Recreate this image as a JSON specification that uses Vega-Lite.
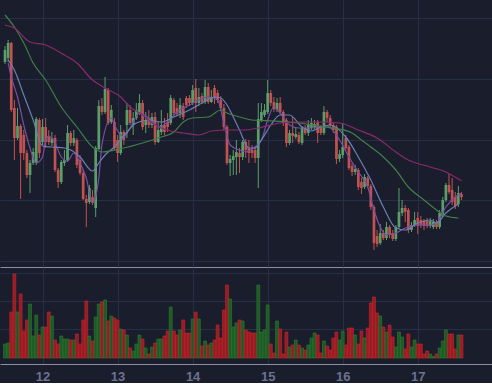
{
"$schema": "https://vega.github.io/schema/vega-lite/v6.json",
"background": "#1a1d2c",
"padding": 0,
"spacing": 0,
"config": {"view": {"stroke": null}},
"datasets": {
"k": [
{"t":"2024-03-11T12:00Z","o":226,"h":242,"l":224,"c":238,"v":14},
{"t":"2024-03-11T13:00Z","o":230,"h":248,"l":226,"c":245,"v":15},
{"t":"2024-03-11T14:00Z","o":245,"h":246,"l":176,"c":178,"v":46},
{"t":"2024-03-11T15:00Z","o":180,"h":188,"l":128,"c":150,"v":84},
{"t":"2024-03-11T16:00Z","o":150,"h":180,"l":148,"c":162,"v":46},
{"t":"2024-03-11T17:00Z","o":162,"h":164,"l":89,"c":135,"v":64},
{"t":"2024-03-11T18:00Z","o":153,"h":158,"l":128,"c":135,"v":27},
{"t":"2024-03-11T19:00Z","o":135,"h":138,"l":110,"c":113,"v":38},
{"t":"2024-03-11T20:00Z","o":113,"h":128,"l":95,"c":125,"v":54},
{"t":"2024-03-11T21:00Z","o":125,"h":140,"l":123,"c":136,"v":22},
{"t":"2024-03-11T22:00Z","o":125,"h":171,"l":123,"c":169,"v":43},
{"t":"2024-03-11T23:00Z","o":168,"h":170,"l":130,"c":135,"v":23},
{"t":"2024-03-12T00:00Z","o":146,"h":169,"l":143,"c":161,"v":31},
{"t":"2024-03-12T01:00Z","o":161,"h":170,"l":140,"c":146,"v":31},
{"t":"2024-03-12T02:00Z","o":151,"h":158,"l":143,"c":146,"v":46},
{"t":"2024-03-12T03:00Z","o":145,"h":156,"l":142,"c":150,"v":42},
{"t":"2024-03-12T04:00Z","o":150,"h":153,"l":116,"c":118,"v":18},
{"t":"2024-03-12T05:00Z","o":118,"h":120,"l":100,"c":106,"v":14},
{"t":"2024-03-12T06:00Z","o":106,"h":128,"l":104,"c":126,"v":22},
{"t":"2024-03-12T07:00Z","o":125,"h":138,"l":122,"c":128,"v":19},
{"t":"2024-03-12T08:00Z","o":128,"h":163,"l":126,"c":155,"v":19},
{"t":"2024-03-12T09:00Z","o":155,"h":157,"l":142,"c":145,"v":18},
{"t":"2024-03-12T10:00Z","o":145,"h":158,"l":142,"c":150,"v":18},
{"t":"2024-03-12T11:00Z","o":148,"h":150,"l":120,"c":123,"v":24},
{"t":"2024-03-12T12:00Z","o":128,"h":133,"l":113,"c":115,"v":14},
{"t":"2024-03-12T13:00Z","o":115,"h":118,"l":88,"c":89,"v":38},
{"t":"2024-03-12T14:00Z","o":89,"h":93,"l":61,"c":85,"v":57},
{"t":"2024-03-12T15:00Z","o":86,"h":103,"l":84,"c":100,"v":22},
{"t":"2024-03-12T16:00Z","o":91,"h":98,"l":83,"c":85,"v":17},
{"t":"2024-03-12T17:00Z","o":80,"h":142,"l":71,"c":140,"v":41},
{"t":"2024-03-12T18:00Z","o":139,"h":188,"l":138,"c":182,"v":54},
{"t":"2024-03-12T19:00Z","o":182,"h":190,"l":173,"c":176,"v":56},
{"t":"2024-03-12T20:00Z","o":176,"h":211,"l":174,"c":199,"v":58},
{"t":"2024-03-12T21:00Z","o":198,"h":200,"l":163,"c":165,"v":37},
{"t":"2024-03-12T22:00Z","o":166,"h":183,"l":164,"c":178,"v":42},
{"t":"2024-03-12T23:00Z","o":166,"h":170,"l":138,"c":140,"v":40},
{"t":"2024-03-13T00:00Z","o":148,"h":153,"l":126,"c":135,"v":38},
{"t":"2024-03-13T01:00Z","o":135,"h":163,"l":133,"c":156,"v":29},
{"t":"2024-03-13T02:00Z","o":156,"h":158,"l":143,"c":148,"v":28},
{"t":"2024-03-13T03:00Z","o":163,"h":185,"l":150,"c":178,"v":23},
{"t":"2024-03-13T04:00Z","o":178,"h":183,"l":163,"c":165,"v":10},
{"t":"2024-03-13T05:00Z","o":163,"h":176,"l":153,"c":170,"v":7},
{"t":"2024-03-13T06:00Z","o":170,"h":185,"l":168,"c":178,"v":14},
{"t":"2024-03-13T07:00Z","o":175,"h":194,"l":173,"c":185,"v":23},
{"t":"2024-03-13T08:00Z","o":185,"h":188,"l":158,"c":161,"v":19},
{"t":"2024-03-13T09:00Z","o":163,"h":176,"l":155,"c":168,"v":10},
{"t":"2024-03-13T10:00Z","o":170,"h":178,"l":160,"c":163,"v":4},
{"t":"2024-03-13T11:00Z","o":163,"h":175,"l":160,"c":171,"v":11},
{"t":"2024-03-13T12:00Z","o":171,"h":176,"l":143,"c":146,"v":15},
{"t":"2024-03-13T13:00Z","o":146,"h":166,"l":145,"c":158,"v":19},
{"t":"2024-03-13T14:00Z","o":156,"h":178,"l":153,"c":163,"v":19},
{"t":"2024-03-13T15:00Z","o":163,"h":170,"l":153,"c":156,"v":22},
{"t":"2024-03-13T16:00Z","o":166,"h":175,"l":156,"c":161,"v":27},
{"t":"2024-03-13T17:00Z","o":165,"h":193,"l":163,"c":190,"v":51},
{"t":"2024-03-13T18:00Z","o":188,"h":190,"l":173,"c":175,"v":27},
{"t":"2024-03-13T19:00Z","o":180,"h":185,"l":172,"c":174,"v":23},
{"t":"2024-03-13T20:00Z","o":175,"h":190,"l":170,"c":183,"v":28},
{"t":"2024-03-13T21:00Z","o":182,"h":185,"l":168,"c":171,"v":38},
{"t":"2024-03-13T22:00Z","o":190,"h":192,"l":180,"c":183,"v":25},
{"t":"2024-03-13T23:00Z","o":190,"h":193,"l":182,"c":185,"v":25},
{"t":"2024-03-14T00:00Z","o":185,"h":203,"l":183,"c":198,"v":39},
{"t":"2024-03-14T01:00Z","o":200,"h":209,"l":176,"c":185,"v":46},
{"t":"2024-03-14T02:00Z","o":185,"h":200,"l":182,"c":191,"v":39},
{"t":"2024-03-14T03:00Z","o":192,"h":195,"l":184,"c":186,"v":12},
{"t":"2024-03-14T04:00Z","o":186,"h":208,"l":184,"c":201,"v":17},
{"t":"2024-03-14T05:00Z","o":201,"h":205,"l":184,"c":186,"v":13},
{"t":"2024-03-14T06:00Z","o":186,"h":198,"l":185,"c":191,"v":15},
{"t":"2024-03-14T07:00Z","o":200,"h":203,"l":184,"c":190,"v":18},
{"t":"2024-03-14T08:00Z","o":195,"h":198,"l":185,"c":188,"v":33},
{"t":"2024-03-14T09:00Z","o":188,"h":192,"l":178,"c":180,"v":20},
{"t":"2024-03-14T10:00Z","o":180,"h":184,"l":158,"c":161,"v":48},
{"t":"2024-03-14T11:00Z","o":161,"h":163,"l":123,"c":125,"v":73},
{"t":"2024-03-14T12:00Z","o":125,"h":133,"l":112,"c":129,"v":59},
{"t":"2024-03-14T13:00Z","o":128,"h":138,"l":113,"c":132,"v":31},
{"t":"2024-03-14T14:00Z","o":131,"h":148,"l":113,"c":136,"v":35},
{"t":"2024-03-14T15:00Z","o":135,"h":140,"l":115,"c":131,"v":38},
{"t":"2024-03-14T16:00Z","o":131,"h":148,"l":128,"c":146,"v":37},
{"t":"2024-03-14T17:00Z","o":146,"h":149,"l":130,"c":138,"v":28},
{"t":"2024-03-14T18:00Z","o":140,"h":148,"l":125,"c":135,"v":26},
{"t":"2024-03-14T19:00Z","o":138,"h":143,"l":130,"c":135,"v":25},
{"t":"2024-03-14T20:00Z","o":138,"h":141,"l":125,"c":130,"v":25},
{"t":"2024-03-14T21:00Z","o":130,"h":185,"l":100,"c":169,"v":73},
{"t":"2024-03-14T22:00Z","o":168,"h":185,"l":166,"c":176,"v":26},
{"t":"2024-03-14T23:00Z","o":173,"h":184,"l":171,"c":178,"v":28},
{"t":"2024-03-15T00:00Z","o":176,"h":208,"l":174,"c":195,"v":53},
{"t":"2024-03-15T01:00Z","o":195,"h":198,"l":182,"c":185,"v":14},
{"t":"2024-03-15T02:00Z","o":186,"h":191,"l":176,"c":179,"v":5},
{"t":"2024-03-15T03:00Z","o":178,"h":190,"l":176,"c":185,"v":37},
{"t":"2024-03-15T04:00Z","o":185,"h":191,"l":174,"c":176,"v":29},
{"t":"2024-03-15T05:00Z","o":176,"h":178,"l":162,"c":165,"v":4},
{"t":"2024-03-15T06:00Z","o":168,"h":170,"l":141,"c":145,"v":26},
{"t":"2024-03-15T07:00Z","o":145,"h":158,"l":143,"c":155,"v":11},
{"t":"2024-03-15T08:00Z","o":155,"h":171,"l":145,"c":152,"v":13},
{"t":"2024-03-15T09:00Z","o":151,"h":160,"l":149,"c":154,"v":18},
{"t":"2024-03-15T10:00Z","o":153,"h":156,"l":144,"c":146,"v":13},
{"t":"2024-03-15T11:00Z","o":145,"h":162,"l":143,"c":160,"v":10},
{"t":"2024-03-15T12:00Z","o":160,"h":163,"l":153,"c":155,"v":8},
{"t":"2024-03-15T13:00Z","o":155,"h":168,"l":152,"c":163,"v":13},
{"t":"2024-03-15T14:00Z","o":160,"h":170,"l":158,"c":165,"v":20},
{"t":"2024-03-15T15:00Z","o":161,"h":168,"l":159,"c":164,"v":25},
{"t":"2024-03-15T16:00Z","o":166,"h":168,"l":145,"c":155,"v":23},
{"t":"2024-03-15T17:00Z","o":161,"h":163,"l":153,"c":155,"v":5},
{"t":"2024-03-15T18:00Z","o":155,"h":182,"l":153,"c":176,"v":17},
{"t":"2024-03-15T19:00Z","o":176,"h":178,"l":166,"c":170,"v":12},
{"t":"2024-03-15T20:00Z","o":170,"h":173,"l":160,"c":163,"v":8},
{"t":"2024-03-15T21:00Z","o":163,"h":166,"l":155,"c":158,"v":20},
{"t":"2024-03-15T22:00Z","o":161,"h":163,"l":124,"c":129,"v":26},
{"t":"2024-03-15T23:00Z","o":129,"h":138,"l":126,"c":134,"v":18},
{"t":"2024-03-16T00:00Z","o":133,"h":165,"l":130,"c":141,"v":27},
{"t":"2024-03-16T01:00Z","o":150,"h":153,"l":138,"c":140,"v":13},
{"t":"2024-03-16T02:00Z","o":141,"h":143,"l":118,"c":120,"v":30},
{"t":"2024-03-16T03:00Z","o":122,"h":125,"l":112,"c":116,"v":30},
{"t":"2024-03-16T04:00Z","o":116,"h":123,"l":113,"c":119,"v":23},
{"t":"2024-03-16T05:00Z","o":118,"h":120,"l":98,"c":101,"v":14},
{"t":"2024-03-16T06:00Z","o":106,"h":110,"l":94,"c":100,"v":27},
{"t":"2024-03-16T07:00Z","o":101,"h":114,"l":99,"c":111,"v":20},
{"t":"2024-03-16T08:00Z","o":110,"h":112,"l":100,"c":102,"v":30},
{"t":"2024-03-16T09:00Z","o":102,"h":104,"l":78,"c":81,"v":55},
{"t":"2024-03-16T10:00Z","o":81,"h":83,"l":38,"c":45,"v":61},
{"t":"2024-03-16T11:00Z","o":52,"h":58,"l":41,"c":44,"v":45},
{"t":"2024-03-16T12:00Z","o":45,"h":64,"l":43,"c":55,"v":42},
{"t":"2024-03-16T13:00Z","o":55,"h":58,"l":48,"c":50,"v":31},
{"t":"2024-03-16T14:00Z","o":50,"h":66,"l":48,"c":61,"v":26},
{"t":"2024-03-16T15:00Z","o":61,"h":63,"l":50,"c":54,"v":33},
{"t":"2024-03-16T16:00Z","o":55,"h":58,"l":47,"c":49,"v":21},
{"t":"2024-03-16T17:00Z","o":49,"h":63,"l":47,"c":61,"v":11},
{"t":"2024-03-16T18:00Z","o":61,"h":100,"l":59,"c":76,"v":26},
{"t":"2024-03-16T19:00Z","o":75,"h":88,"l":72,"c":80,"v":21},
{"t":"2024-03-16T20:00Z","o":80,"h":83,"l":66,"c":76,"v":9},
{"t":"2024-03-16T21:00Z","o":78,"h":80,"l":55,"c":58,"v":24},
{"t":"2024-03-16T22:00Z","o":58,"h":66,"l":56,"c":63,"v":11},
{"t":"2024-03-16T23:00Z","o":63,"h":76,"l":61,"c":68,"v":18},
{"t":"2024-03-17T00:00Z","o":70,"h":76,"l":54,"c":62,"v":14},
{"t":"2024-03-17T01:00Z","o":68,"h":72,"l":60,"c":63,"v":14},
{"t":"2024-03-17T02:00Z","o":67,"h":69,"l":58,"c":62,"v":4},
{"t":"2024-03-17T03:00Z","o":67,"h":70,"l":60,"c":62,"v":7},
{"t":"2024-03-17T04:00Z","o":62,"h":70,"l":60,"c":67,"v":4},
{"t":"2024-03-17T05:00Z","o":61,"h":69,"l":59,"c":66,"v":1.5},
{"t":"2024-03-17T06:00Z","o":66,"h":68,"l":59,"c":61,"v":4},
{"t":"2024-03-17T07:00Z","o":61,"h":78,"l":59,"c":75,"v":10},
{"t":"2024-03-17T08:00Z","o":73,"h":91,"l":71,"c":88,"v":17},
{"t":"2024-03-17T09:00Z","o":88,"h":105,"l":86,"c":103,"v":28},
{"t":"2024-03-17T10:00Z","o":103,"h":114,"l":94,"c":96,"v":24},
{"t":"2024-03-17T11:00Z","o":98,"h":110,"l":83,"c":86,"v":24},
{"t":"2024-03-17T12:00Z","o":91,"h":96,"l":79,"c":82,"v":9},
{"t":"2024-03-17T13:00Z","o":84,"h":102,"l":81,"c":95,"v":23},
{"t":"2024-03-17T14:00Z","o":94,"h":96,"l":88,"c":91,"v":23}
],
"ma": [
{"t":"2024-03-11T13:00Z","s":"MA5","v":225},{"t":"2024-03-11T14:00Z","s":"MA5","v":211},{"t":"2024-03-11T16:00Z","s":"MA5","v":191},{"t":"2024-03-11T18:00Z","s":"MA5","v":163},{"t":"2024-03-11T20:00Z","s":"MA5","v":140},{"t":"2024-03-11T22:00Z","s":"MA5","v":125},{"t":"2024-03-12T00:00Z","s":"MA5","v":131},{"t":"2024-03-12T01:00Z","s":"MA5","v":148},{"t":"2024-03-12T02:00Z","s":"MA5","v":152},{"t":"2024-03-12T04:00Z","s":"MA5","v":145},{"t":"2024-03-12T06:00Z","s":"MA5","v":131},{"t":"2024-03-12T08:00Z","s":"MA5","v":127},{"t":"2024-03-12T10:00Z","s":"MA5","v":135},{"t":"2024-03-12T12:00Z","s":"MA5","v":125},{"t":"2024-03-12T14:00Z","s":"MA5","v":110},{"t":"2024-03-12T16:00Z","s":"MA5","v":85},{"t":"2024-03-12T18:00Z","s":"MA5","v":110},{"t":"2024-03-12T19:00Z","s":"MA5","v":143},{"t":"2024-03-12T22:00Z","s":"MA5","v":170},{"t":"2024-03-12T23:00Z","s":"MA5","v":163},{"t":"2024-03-13T02:00Z","s":"MA5","v":151},{"t":"2024-03-13T04:00Z","s":"MA5","v":160},{"t":"2024-03-13T07:00Z","s":"MA5","v":175},{"t":"2024-03-13T10:00Z","s":"MA5","v":170},{"t":"2024-03-13T13:00Z","s":"MA5","v":161},{"t":"2024-03-13T16:00Z","s":"MA5","v":166},{"t":"2024-03-13T19:00Z","s":"MA5","v":176},{"t":"2024-03-13T23:00Z","s":"MA5","v":183},{"t":"2024-03-14T02:00Z","s":"MA5","v":188},{"t":"2024-03-14T05:00Z","s":"MA5","v":191},{"t":"2024-03-14T08:00Z","s":"MA5","v":188},{"t":"2024-03-14T10:00Z","s":"MA5","v":165},{"t":"2024-03-14T12:00Z","s":"MA5","v":143},{"t":"2024-03-14T15:00Z","s":"MA5","v":138},{"t":"2024-03-14T17:00Z","s":"MA5","v":136},{"t":"2024-03-14T19:00Z","s":"MA5","v":139},{"t":"2024-03-14T22:00Z","s":"MA5","v":148},{"t":"2024-03-15T00:00Z","s":"MA5","v":168},{"t":"2024-03-15T02:00Z","s":"MA5","v":181},{"t":"2024-03-15T04:00Z","s":"MA5","v":175},{"t":"2024-03-15T07:00Z","s":"MA5","v":163},{"t":"2024-03-15T10:00Z","s":"MA5","v":160},{"t":"2024-03-15T14:00Z","s":"MA5","v":160},{"t":"2024-03-15T19:00Z","s":"MA5","v":162},{"t":"2024-03-15T23:00Z","s":"MA5","v":148},{"t":"2024-03-16T02:00Z","s":"MA5","v":131},{"t":"2024-03-16T05:00Z","s":"MA5","v":116},{"t":"2024-03-16T08:00Z","s":"MA5","v":101},{"t":"2024-03-16T10:00Z","s":"MA5","v":78},{"t":"2024-03-16T12:00Z","s":"MA5","v":61},{"t":"2024-03-16T14:00Z","s":"MA5","v":53},{"t":"2024-03-16T17:00Z","s":"MA5","v":55},{"t":"2024-03-16T20:00Z","s":"MA5","v":60},{"t":"2024-03-17T00:00Z","s":"MA5","v":63},{"t":"2024-03-17T04:00Z","s":"MA5","v":63},{"t":"2024-03-17T06:00Z","s":"MA5","v":65},{"t":"2024-03-17T09:00Z","s":"MA5","v":81},{"t":"2024-03-17T12:00Z","s":"MA5","v":91},{"t":"2024-03-17T14:00Z","s":"MA5","v":95},
{"t":"2024-03-11T13:00Z","s":"MA10","v":228},{"t":"2024-03-11T15:00Z","s":"MA10","v":218},{"t":"2024-03-11T18:00Z","s":"MA10","v":193},{"t":"2024-03-11T21:00Z","s":"MA10","v":168},{"t":"2024-03-12T00:00Z","s":"MA10","v":142},{"t":"2024-03-12T03:00Z","s":"MA10","v":141},{"t":"2024-03-12T07:00Z","s":"MA10","v":140},{"t":"2024-03-12T09:00Z","s":"MA10","v":138},{"t":"2024-03-12T12:00Z","s":"MA10","v":131},{"t":"2024-03-12T16:00Z","s":"MA10","v":117},{"t":"2024-03-12T18:00Z","s":"MA10","v":125},{"t":"2024-03-12T20:00Z","s":"MA10","v":133},{"t":"2024-03-12T23:00Z","s":"MA10","v":141},{"t":"2024-03-13T03:00Z","s":"MA10","v":156},{"t":"2024-03-13T06:00Z","s":"MA10","v":165},{"t":"2024-03-13T10:00Z","s":"MA10","v":168},{"t":"2024-03-13T14:00Z","s":"MA10","v":166},{"t":"2024-03-13T18:00Z","s":"MA10","v":171},{"t":"2024-03-13T23:00Z","s":"MA10","v":178},{"t":"2024-03-14T03:00Z","s":"MA10","v":185},{"t":"2024-03-14T07:00Z","s":"MA10","v":191},{"t":"2024-03-14T09:00Z","s":"MA10","v":190},{"t":"2024-03-14T11:00Z","s":"MA10","v":183},{"t":"2024-03-14T13:00Z","s":"MA10","v":171},{"t":"2024-03-14T15:00Z","s":"MA10","v":158},{"t":"2024-03-14T18:00Z","s":"MA10","v":140},{"t":"2024-03-14T20:00Z","s":"MA10","v":140},{"t":"2024-03-14T22:00Z","s":"MA10","v":148},{"t":"2024-03-15T01:00Z","s":"MA10","v":163},{"t":"2024-03-15T04:00Z","s":"MA10","v":173},{"t":"2024-03-15T07:00Z","s":"MA10","v":173},{"t":"2024-03-15T11:00Z","s":"MA10","v":161},{"t":"2024-03-15T14:00Z","s":"MA10","v":157},{"t":"2024-03-15T17:00Z","s":"MA10","v":161},{"t":"2024-03-15T20:00Z","s":"MA10","v":163},{"t":"2024-03-16T01:00Z","s":"MA10","v":151},{"t":"2024-03-16T05:00Z","s":"MA10","v":131},{"t":"2024-03-16T09:00Z","s":"MA10","v":108},{"t":"2024-03-16T13:00Z","s":"MA10","v":81},{"t":"2024-03-16T17:00Z","s":"MA10","v":60},{"t":"2024-03-16T20:00Z","s":"MA10","v":58},{"t":"2024-03-17T00:00Z","s":"MA10","v":65},{"t":"2024-03-17T04:00Z","s":"MA10","v":68},{"t":"2024-03-17T06:00Z","s":"MA10","v":65},{"t":"2024-03-17T09:00Z","s":"MA10","v":75},{"t":"2024-03-17T13:00Z","s":"MA10","v":84},
{"t":"2024-03-11T12:00Z","s":"MA30","v":273},{"t":"2024-03-11T15:00Z","s":"MA30","v":261},{"t":"2024-03-11T18:00Z","s":"MA30","v":245},{"t":"2024-03-11T21:00Z","s":"MA30","v":225},{"t":"2024-03-12T01:00Z","s":"MA30","v":208},{"t":"2024-03-12T06:00Z","s":"MA30","v":181},{"t":"2024-03-12T11:00Z","s":"MA30","v":161},{"t":"2024-03-12T16:00Z","s":"MA30","v":141},{"t":"2024-03-12T19:00Z","s":"MA30","v":136},{"t":"2024-03-13T02:00Z","s":"MA30","v":140},{"t":"2024-03-13T08:00Z","s":"MA30","v":145},{"t":"2024-03-13T14:00Z","s":"MA30","v":151},{"t":"2024-03-13T18:00Z","s":"MA30","v":156},{"t":"2024-03-13T21:00Z","s":"MA30","v":166},{"t":"2024-03-14T00:00Z","s":"MA30","v":170},{"t":"2024-03-14T05:00Z","s":"MA30","v":171},{"t":"2024-03-14T09:00Z","s":"MA30","v":178},{"t":"2024-03-14T11:00Z","s":"MA30","v":175},{"t":"2024-03-14T15:00Z","s":"MA30","v":171},{"t":"2024-03-14T19:00Z","s":"MA30","v":168},{"t":"2024-03-15T02:00Z","s":"MA30","v":167},{"t":"2024-03-15T10:00Z","s":"MA30","v":165},{"t":"2024-03-15T18:00Z","s":"MA30","v":161},{"t":"2024-03-15T23:00Z","s":"MA30","v":159},{"t":"2024-03-16T03:00Z","s":"MA30","v":155},{"t":"2024-03-16T06:00Z","s":"MA30","v":148},{"t":"2024-03-16T09:00Z","s":"MA30","v":141},{"t":"2024-03-16T13:00Z","s":"MA30","v":131},{"t":"2024-03-16T17:00Z","s":"MA30","v":118},{"t":"2024-03-16T21:00Z","s":"MA30","v":101},{"t":"2024-03-17T02:00Z","s":"MA30","v":88},{"t":"2024-03-17T06:00Z","s":"MA30","v":78},{"t":"2024-03-17T09:00Z","s":"MA30","v":72},{"t":"2024-03-17T13:00Z","s":"MA30","v":70},
{"t":"2024-03-11T12:00Z","s":"MA60","v":263},{"t":"2024-03-11T15:00Z","s":"MA60","v":260},{"t":"2024-03-11T20:00Z","s":"MA60","v":246},{"t":"2024-03-12T01:00Z","s":"MA60","v":243},{"t":"2024-03-12T07:00Z","s":"MA60","v":233},{"t":"2024-03-12T11:00Z","s":"MA60","v":225},{"t":"2024-03-12T16:00Z","s":"MA60","v":208},{"t":"2024-03-12T20:00Z","s":"MA60","v":200},{"t":"2024-03-13T01:00Z","s":"MA60","v":191},{"t":"2024-03-13T04:00Z","s":"MA60","v":181},{"t":"2024-03-13T08:00Z","s":"MA60","v":173},{"t":"2024-03-13T12:00Z","s":"MA60","v":163},{"t":"2024-03-13T17:00Z","s":"MA60","v":157},{"t":"2024-03-13T21:00Z","s":"MA60","v":155},{"t":"2024-03-14T02:00Z","s":"MA60","v":153},{"t":"2024-03-14T06:00Z","s":"MA60","v":157},{"t":"2024-03-14T11:00Z","s":"MA60","v":158},{"t":"2024-03-14T16:00Z","s":"MA60","v":158},{"t":"2024-03-14T21:00Z","s":"MA60","v":160},{"t":"2024-03-15T04:00Z","s":"MA60","v":165},{"t":"2024-03-15T10:00Z","s":"MA60","v":166},{"t":"2024-03-15T16:00Z","s":"MA60","v":166},{"t":"2024-03-15T23:00Z","s":"MA60","v":165},{"t":"2024-03-16T05:00Z","s":"MA60","v":158},{"t":"2024-03-16T11:00Z","s":"MA60","v":150},{"t":"2024-03-16T17:00Z","s":"MA60","v":136},{"t":"2024-03-16T21:00Z","s":"MA60","v":128},{"t":"2024-03-17T04:00Z","s":"MA60","v":121},{"t":"2024-03-17T09:00Z","s":"MA60","v":116},{"t":"2024-03-17T14:00Z","s":"MA60","v":107}
]
},
"vconcat": [
{
"width": 492,
"height": 267,
"layer": [
{
"data": {"name": "k"},
"mark": {"type": "rule", "strokeWidth": 1},
"encoding": {
"x": {"field": "t", "type": "temporal", "title": null, "scale": {"type": "utc", "domain": [{"year": 2024, "month": 3, "date": 11, "hours": 12, "utc": true}, {"year": 2024, "month": 3, "date": 17, "hours": 22, "minutes": 9, "utc": true}]}, "axis": {"values": [{"year": 2024, "month": 3, "date": 12, "utc": true}, {"year": 2024, "month": 3, "date": 13, "utc": true}, {"year": 2024, "month": 3, "date": 14, "utc": true}, {"year": 2024, "month": 3, "date": 15, "utc": true}, {"year": 2024, "month": 3, "date": 16, "utc": true}, {"year": 2024, "month": 3, "date": 17, "utc": true}], "labels": false, "ticks": false, "domain": true, "domainColor": "#8a8ea8", "domainWidth": 1.2, "grid": true, "gridColor": "#272e48", "title": null}},
"y": {"field": "l", "type": "quantitative", "title": null, "scale": {"domain": [21, 288], "nice": false, "zero": false}, "axis": {"values": [269.7, 239.35, 209, 178.65, 148.3, 117.95, 87.6, 57.25, 26.9], "labels": false, "ticks": false, "domain": false, "grid": true, "gridColor": "#272e48", "title": null}},
"y2": {"field": "h"},
"color": {"condition": {"test": "datum.c >= datum.o", "value": "#5a9e68"}, "value": "#c25252"}
}
},
{
"data": {"name": "k"},
"mark": {"type": "bar", "width": 2.7},
"encoding": {
"x": {"field": "t", "type": "temporal", "title": null},
"y": {"field": "o", "type": "quantitative", "title": null},
"y2": {"field": "c"},
"color": {"condition": {"test": "datum.c >= datum.o", "value": "#5a9e68"}, "value": "#c25252"}
}
},
{
"data": {"name": "ma"},
"mark": {"type": "line", "strokeWidth": 1.2, "interpolate": "monotone"},
"encoding": {
"x": {"field": "t", "type": "temporal", "title": null},
"y": {"field": "v", "type": "quantitative", "title": null},
"color": {"field": "s", "type": "nominal", "legend": null, "scale": {"domain": ["MA5", "MA10", "MA30", "MA60"], "range": ["#7a4ea6", "#6a7fb4", "#3f7f48", "#8a2a6e"]}}
}
},
{
"mark": {"type": "rule", "strokeDash": [3, 3], "color": "#c45a5a", "strokeWidth": 1},
"encoding": {"y": {"datum": 90.7, "type": "quantitative"}}
}
]
},
{
"width": 492,
"height": 97,
"data": {"name": "k"},
"mark": {"type": "bar", "width": 2.9, "strokeWidth": 0.6},
"encoding": {
"x": {"field": "t", "type": "temporal", "title": null, "scale": {"type": "utc", "domain": [{"year": 2024, "month": 3, "date": 11, "hours": 12, "utc": true}, {"year": 2024, "month": 3, "date": 17, "hours": 22, "minutes": 9, "utc": true}]}, "axis": {"values": [{"year": 2024, "month": 3, "date": 12, "utc": true}, {"year": 2024, "month": 3, "date": 13, "utc": true}, {"year": 2024, "month": 3, "date": 14, "utc": true}, {"year": 2024, "month": 3, "date": 15, "utc": true}, {"year": 2024, "month": 3, "date": 16, "utc": true}, {"year": 2024, "month": 3, "date": 17, "utc": true}], "labelExpr": "utcFormat(datum.value, '%-d')", "ticks": false, "tickSize": 0, "labelPadding": 6, "labelFont": "Liberation Sans", "labelFontSize": 13, "labelFontWeight": "bold", "labelColor": "#6c7290", "domain": true, "domainColor": "#8a8ea8", "domainWidth": 1.2, "grid": true, "gridColor": "#272e48", "title": null}},
"y": {"field": "v", "type": "quantitative", "title": null, "scale": {"domain": [-6, 91], "nice": false, "zero": false}, "axis": {"values": [28.6, 56.6, 84.6], "labels": false, "ticks": false, "domain": false, "grid": true, "gridColor": "#272e48", "title": null}},
"y2": {"datum": 0},
"color": {"condition": {"test": "datum.c >= datum.o", "value": "#1d5a23"}, "value": "#971b22"},
"stroke": {"condition": {"test": "datum.c >= datum.o", "value": "#2f7c35"}, "value": "#c9282f"}
}
}
]
}
